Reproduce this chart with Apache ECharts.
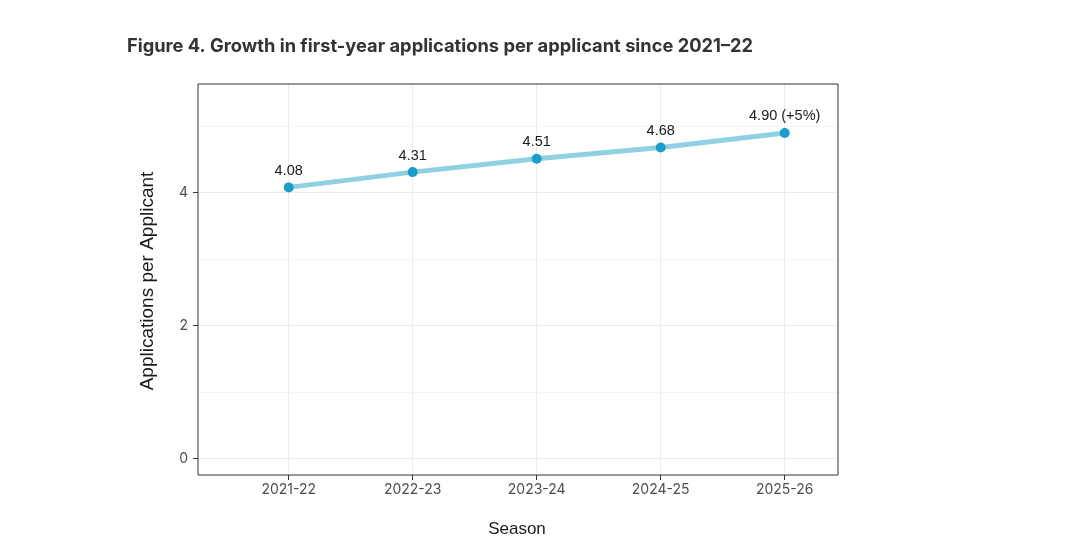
<!DOCTYPE html>
<html>
<head>
<meta charset="utf-8">
<script src="https://cdn.jsdelivr.net/npm/echarts@6/dist/echarts.min.js"></script>
<style>html,body{margin:0;padding:0;background:#fff;}#c{width:1080px;height:537px;}</style>
</head>
<body>
<div id="c"></div>
<script>
const seasons = ['2021-22', '2022-23', '2023-24', '2024-25', '2025-26'];
const appsPerApplicant = [4.08, 4.31, 4.51, 4.68, 4.90];
const pointLabels = ['4.08', '4.31', '4.51', '4.68', '4.90 (+5%)'];
const yTickValues = [0, 2, 4];

// layout (pixels)
const W = 1080, H = 537;
const boxL = 198, boxR = 838, boxT = 84, boxB = 475;
const y0px = 458.3, pxPerUnit = 66.4;
const xFirst = 288.7, xLast = 784.7;

const chart = echarts.init(document.getElementById('c'), null, {renderer: 'canvas'});
const tickFont = 'Inter, "Noto Sans", sans-serif';
const textFont = '"Liberation Sans", Arial, sans-serif';

chart.setOption({
  backgroundColor: '#ffffff',
  animation: false,
  title: {
    text: 'Figure 4. Growth in first-year applications per applicant since 2021\u201322',
    left: 127, top: 38, padding: 0,
    textStyle: {fontFamily: tickFont, fontWeight: 'bold', fontSize: 18.3, color: '#333333'}
  },
  grid: [
    {left: boxL, right: W - boxR, top: boxT, bottom: H - boxB, show: true, borderColor: '#333333', borderWidth: 1, backgroundColor: 'transparent', z: 3},
    {left: boxL, right: W - boxR, top: y0px - 5 * pxPerUnit, bottom: H - y0px},
    {left: boxL, right: W - boxR, top: y0px - 4 * pxPerUnit, bottom: H - y0px},
    {left: xFirst, right: W - xLast, top: boxT, bottom: H - boxB}
  ],
  xAxis: [
    {gridIndex: 0, type: 'value', show: false},
    {gridIndex: 1, type: 'value', show: false},
    {gridIndex: 2, type: 'value', show: false},
    {
      gridIndex: 3, type: 'category', data: seasons, boundaryGap: false, position: 'bottom',
      axisLine: {show: false, onZero: false},
      axisTick: {show: true, length: 5, interval: 0, lineStyle: {color: '#333333', width: 1}},
      axisLabel: {interval: 0, margin: 8, fontFamily: tickFont, fontSize: 14, color: '#4d4d4d'},
      splitLine: {show: true, interval: 0, lineStyle: {color: '#ebebeb', width: 1}}
    }
  ],
  yAxis: [
    {gridIndex: 0, type: 'value', show: false},
    {
      gridIndex: 1, type: 'value', min: 0, max: 5, interval: 1,
      axisLine: {show: false}, axisTick: {show: false}, axisLabel: {show: false},
      splitLine: {show: true, lineStyle: {color: ['#ebebeb', '#f5f5f5'], width: 1}}
    },
    {
      gridIndex: 2, type: 'value', min: 0, max: 4, interval: 2,
      axisLine: {show: false, onZero: false},
      axisTick: {show: true, length: 5, lineStyle: {color: '#333333', width: 1}},
      axisLabel: {margin: 10, fontFamily: tickFont, fontSize: 14, color: '#4d4d4d',
        formatter: v => (yTickValues.indexOf(v) >= 0 ? String(v) : '')},
      splitLine: {show: false}
    },
    {
      gridIndex: 3, type: 'value',
      min: (y0px - boxB) / pxPerUnit, max: (y0px - boxT) / pxPerUnit,
      show: false, splitLine: {show: false}
    }
  ],
  graphic: [
    {type: 'text', x: 517, y: 529,
      style: {text: 'Season', fontFamily: textFont, fontSize: 17, fill: '#1a1a1a', align: 'center', verticalAlign: 'middle'}},
    {type: 'text', x: 148, y: 281, rotation: Math.PI / 2,
      style: {text: 'Applications per Applicant', fontFamily: textFont, fontSize: 19, fill: '#1a1a1a',
        align: 'center', verticalAlign: 'middle'}}
  ],
  series: [{
    type: 'line', xAxisIndex: 3, yAxisIndex: 3,
    data: appsPerApplicant,
    symbol: 'circle', symbolSize: 10,
    itemStyle: {color: '#1b9dc9'},
    lineStyle: {color: '#8fd1e3', width: 5},
    label: {show: true, position: 'top', distance: 4, fontFamily: textFont, fontSize: 14.5, color: '#1a1a1a',
      formatter: p => pointLabels[p.dataIndex]},
    z: 5
  }]
});
</script>
</body>
</html>
